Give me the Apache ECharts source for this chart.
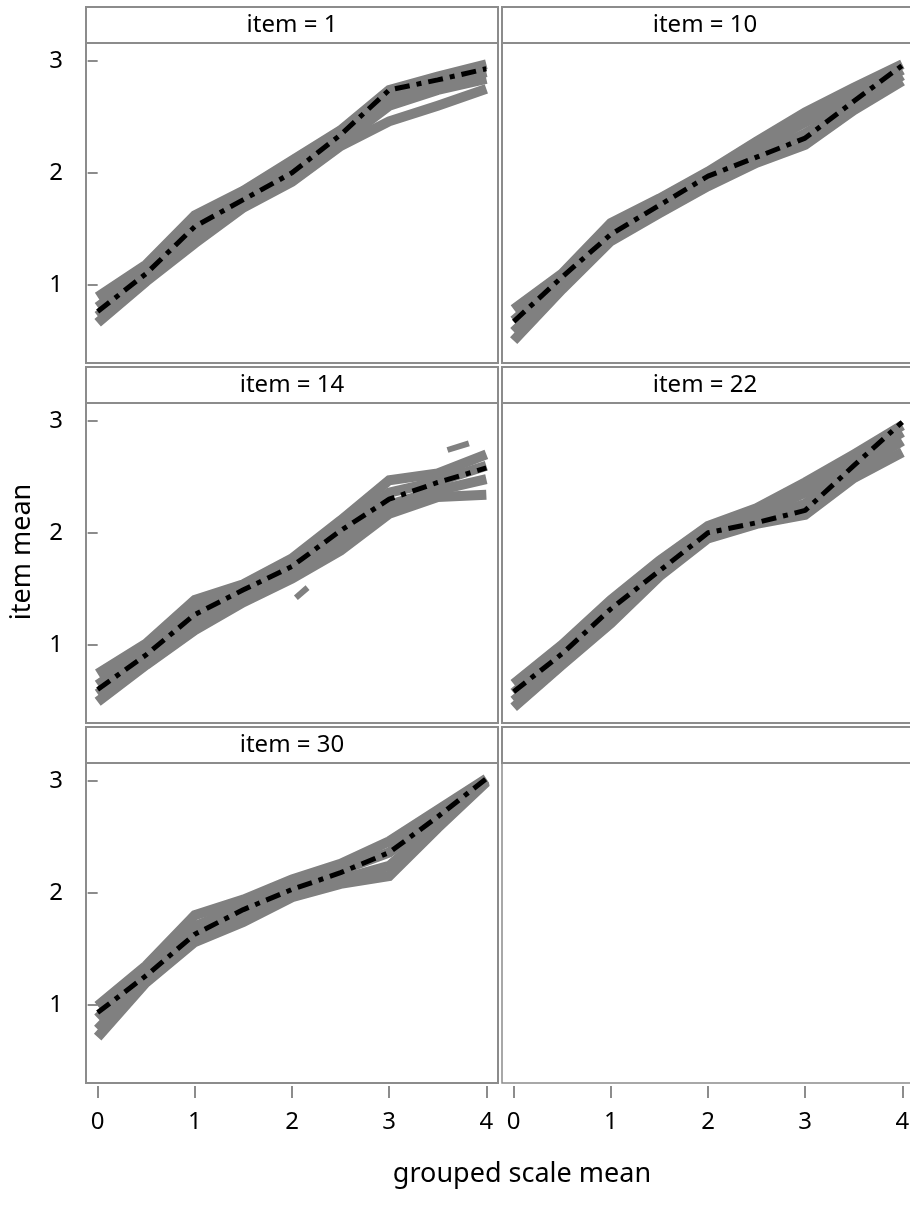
<!DOCTYPE html>
<html>
<head>
<meta charset="utf-8">
<script src="https://cdn.jsdelivr.net/npm/echarts@6/dist/echarts.min.js"></script>
<style>
  html, body { margin: 0; padding: 0; background: #fff; }
  #chart { width: 910px; height: 1216px; }
</style>
</head>
<body>
<div id="chart"></div>
<script>
// grouped scale mean positions
const xValues = [0, 0.5, 1, 1.5, 2, 2.5, 3, 3.5, 4];
const xTicks = [0, 1, 2, 3, 4];
const yTicks = [1, 2, 3];
const panelLabels = ['item = 1', 'item = 10', 'item = 14', 'item = 22', 'item = 30', ''];

// observed item means (black dash-dot)
const item1Black = [0.76, 1.10, 1.52, 1.76, 2.00, 2.34, 2.74, 2.83, 2.93];
const item10Black = [0.67, 1.07, 1.45, 1.71, 1.97, 2.14, 2.31, 2.64, 2.96];
const item14Black = [0.60, 0.91, 1.27, 1.49, 1.70, 2.02, 2.30, 2.45, 2.58];
const item22Black = [0.58, 0.92, 1.32, 1.66, 2.00, 2.09, 2.20, 2.60, 2.99];
const item30Black = [0.93, 1.26, 1.63, 1.85, 2.03, 2.18, 2.36, 2.68, 3.02];

// simulated item means (gray band)
const item1Gray = [
  [0.89, 1.18, 1.62, 1.84, 2.11, 2.38, 2.74, 2.86, 2.97],
  [0.80, 1.12, 1.54, 1.79, 2.04, 2.32, 2.68, 2.80, 2.90],
  [0.72, 1.06, 1.45, 1.73, 1.97, 2.27, 2.60, 2.74, 2.84],
  [0.66, 1.03, 1.37, 1.69, 1.92, 2.24, 2.46, 2.60, 2.75]
];
const item10Gray = [
  [0.78, 1.10, 1.55, 1.77, 2.01, 2.28, 2.54, 2.76, 2.97],
  [0.68, 1.05, 1.49, 1.72, 1.96, 2.22, 2.45, 2.68, 2.92],
  [0.58, 0.99, 1.43, 1.67, 1.91, 2.15, 2.35, 2.61, 2.87],
  [0.50, 0.96, 1.39, 1.64, 1.88, 2.09, 2.25, 2.56, 2.82]
];
const item14Gray = [
  [0.74, 1.01, 1.40, 1.54, 1.77, 2.11, 2.47, 2.53, 2.70],
  [0.64, 0.94, 1.31, 1.49, 1.70, 2.03, 2.36, 2.46, 2.60],
  [0.56, 0.87, 1.21, 1.43, 1.64, 1.94, 2.25, 2.38, 2.48],
  [0.49, 0.82, 1.13, 1.38, 1.59, 1.84, 2.17, 2.32, 2.34]
];
const item22Gray = [
  [0.65, 1.00, 1.40, 1.75, 2.06, 2.22, 2.45, 2.70, 2.96],
  [0.57, 0.93, 1.33, 1.70, 2.02, 2.16, 2.36, 2.64, 2.90],
  [0.50, 0.86, 1.25, 1.65, 1.98, 2.11, 2.26, 2.56, 2.82],
  [0.44, 0.82, 1.19, 1.61, 1.95, 2.08, 2.16, 2.49, 2.72]
];
const item30Gray = [
  [0.99, 1.35, 1.80, 1.94, 2.12, 2.26, 2.46, 2.74, 3.02],
  [0.88, 1.29, 1.70, 1.88, 2.06, 2.20, 2.36, 2.68, 3.01],
  [0.78, 1.23, 1.62, 1.80, 2.00, 2.12, 2.24, 2.62, 3.00],
  [0.71, 1.20, 1.56, 1.74, 1.96, 2.08, 2.15, 2.58, 2.99]
];
// stray simulated pieces in item 14
const item14StrayX = [[3.6, 3.82], [2.04, 2.16]];
const item14StrayY = [[2.74, 2.80], [1.42, 1.51]];

const blacks = [item1Black, item10Black, item14Black, item22Black, item30Black];
const grays = [item1Gray, item10Gray, item14Gray, item22Gray, item30Gray];

const FONT = 'Noto Sans';
const FRAME = '#8c8c8c';
const colLeft = [86, 502];
const rowTop = [43, 403, 763];
const cellW = 412, cellH = 320, stripH = 36;

const grid = [], xAxis = [], yAxis = [], series = [], graphic = [];

for (let i = 0; i < 6; i++) {
  const col = i % 2, row = Math.floor(i / 2);
  const isEmpty = i === 5;
  const showX = row === 2;
  const showY = col === 0;
  grid.push({
    left: colLeft[col], top: rowTop[row], width: cellW, height: cellH,
    outerBoundsMode: 'none', containLabel: false,
    show: true, borderColor: FRAME, borderWidth: isEmpty ? 1.5 : 2,
    backgroundColor: 'transparent'
  });
  xAxis.push({
    type: 'value', gridIndex: i, min: -0.12, max: 4.12, offset: 3,
    axisLine: { show: false },
    splitLine: { show: false },
    axisTick: { show: showX, length: 12, customValues: xTicks, lineStyle: { color: FRAME, width: 2 } },
    axisLabel: { show: showX, customValues: xTicks, margin: 24, color: '#000', fontFamily: FONT, fontSize: 24 }
  });
  yAxis.push({
    type: 'value', gridIndex: i, min: 0.3, max: 3.16, offset: 3,
    axisLine: { show: false },
    splitLine: { show: false },
    axisTick: { show: showY, length: 10, customValues: yTicks, lineStyle: { color: FRAME, width: 2 } },
    axisLabel: { show: showY, customValues: yTicks, margin: 20, color: '#000', fontFamily: FONT, fontSize: 24 }
  });
  // header strip
  graphic.push({
    type: 'rect', z: 10,
    shape: { x: colLeft[col], y: rowTop[row] - stripH, width: cellW, height: stripH },
    style: { fill: '#fff', stroke: FRAME, lineWidth: 2 }
  });
  graphic.push({
    type: 'text', z: 11,
    x: colLeft[col] + cellW / 2 - (col === 1 ? 3 : 0), y: rowTop[row] - stripH / 2,
    style: { text: panelLabels[i], fill: '#000', font: '24px "' + FONT + '"', align: 'center', verticalAlign: 'middle' }
  });

  if (isEmpty) continue;
  grays[i].forEach((ys) => {
    series.push({
      type: 'line', xAxisIndex: i, yAxisIndex: i, showSymbol: false, silent: true,
      data: xValues.map((x, j) => [x, ys[j]]),
      lineStyle: { color: '#808080', width: 10, cap: 'butt', join: 'miter' },
      z: 2
    });
  });
  if (i === 2) {
    item14StrayX.forEach((xs, k) => {
      series.push({
        type: 'line', xAxisIndex: i, yAxisIndex: i, showSymbol: false, silent: true,
        data: xs.map((x, j) => [x, item14StrayY[k][j]]),
        lineStyle: { color: '#808080', width: 6, cap: 'butt' },
        z: 2
      });
    });
  }
  series.push({
    type: 'line', xAxisIndex: i, yAxisIndex: i, showSymbol: false, silent: true,
    data: xValues.map((x, j) => [x, blacks[i][j]]),
    lineStyle: { color: '#000', width: 5, type: [15, 7, 5, 7], cap: 'butt' },
    z: 3
  });
}

// axis titles
graphic.push({
  type: 'text', x: 22, y: 552, rotation: Math.PI / 2,
  style: { text: 'item mean', fill: '#000', font: '27px "' + FONT + '"', align: 'center', verticalAlign: 'middle' }
});
graphic.push({
  type: 'text', x: 522, y: 1174,
  style: { text: 'grouped scale mean', fill: '#000', font: '27px "' + FONT + '"', align: 'center', verticalAlign: 'middle' }
});

const chart = echarts.init(document.getElementById('chart'), null, { renderer: 'canvas' });
chart.setOption({
  animation: false,
  backgroundColor: '#fff',
  grid, xAxis, yAxis, series, graphic
});
</script>
</body>
</html>
